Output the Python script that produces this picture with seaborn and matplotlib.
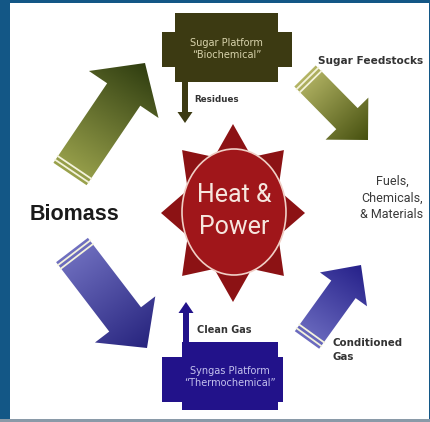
import numpy as np
import seaborn as sns
import matplotlib.pyplot as plt
from matplotlib.patches import Polygon, Rectangle, Ellipse

# labels of the diagram
source_label = 'Biomass'
hub_label = 'Heat &\nPower'
product_label = 'Fuels,\nChemicals,\n& Materials'
platform_names = ['Sugar Platform\n\u201cBiochemical\u201d', 'Syngas Platform\n\u201cThermochemical\u201d']
flow_labels = ['Residues', 'Sugar Feedstocks', 'Clean Gas', 'Conditioned\nGas']

sns.set_theme(style='white')
plt.rcParams['font.family'] = ['DejaVu Sans']
narrow = ['Roboto', 'DejaVu Sans']

fig = plt.figure(figsize=(4.31, 4.22), dpi=100)
ax = fig.add_axes([0, 0, 1, 1])
ax.set_axis_off()

olive = '#3c3a12'
indigo = '#22128a'
border = '#135786'


def arrow_poly(tail, tip, w, hw, hl):
    t = np.array(tail, float)
    p = np.array(tip, float)
    d = p - t
    L = np.hypot(*d)
    u = d / L
    n = np.array([-u[1], u[0]])
    b = p - u * hl
    pts = [t + n * w / 2, b + n * w / 2, b + n * hw / 2, p,
           b - n * hw / 2, b - n * w / 2, t - n * w / 2]
    return np.array(pts), u, n, L


def fat_arrow(tail, tip, w, hw, hl, c_tail, c_tip, stripes=True):
    pts, u, n, L = arrow_poly(tail, tip, w, hw, hl)
    patch = Polygon(pts, closed=True, facecolor='none', edgecolor='none')
    ax.add_patch(patch)
    x0, y0 = pts.min(axis=0) - 2
    x1, y1 = pts.max(axis=0) + 2
    X, Y = np.meshgrid(np.linspace(x0, x1, 120), np.linspace(y0, y1, 120))
    s = ((X - tail[0]) * u[0] + (Y - tail[1]) * u[1]) / L
    cmap = sns.blend_palette([c_tail, c_tip], as_cmap=True)
    im = ax.imshow(np.clip(s, 0, 1), cmap=cmap, vmin=0, vmax=1,
                   extent=(x0, x1, y1, y0), origin='upper',
                   interpolation='bilinear', zorder=2)
    im.set_clip_path(patch)
    if stripes:
        t = np.array(tail, float)
        for dd in (3.5, 8):
            c = t + u * dd
            a, b = c + n * (w / 2 + 1), c - n * (w / 2 + 1)
            ax.plot([a[0], b[0]], [a[1], b[1]], color='#f4f3dc', lw=1.3,
                    solid_capstyle='butt', zorder=3)


# big arrows
fat_arrow((70, 174), (145, 63), 40, 84, 38, '#9aa24c', '#2f3d10')
fat_arrow((72, 250), (147, 348), 40, 76, 36, '#7070c0', '#27247e')
fat_arrow((305, 76), (368, 140), 30, 60, 30, '#b4b565', '#46500f')
fat_arrow((307, 340), (361, 265), 30, 58, 30, '#6c6cc0', '#26218a')

# small straight arrows
def small_arrow(x, y0, y1, color):
    pts, _, _, _ = arrow_poly((x, y0), (x, y1), 6, 15, 11)
    ax.add_patch(Polygon(pts, closed=True, facecolor=color, edgecolor='none', zorder=3))

small_arrow(185, 80, 123, olive)
small_arrow(186, 344, 302, indigo)

# platform boxes
for (mx0, mx1, my0, my1, ex0, ex1, ey0, ey1), col, txtc, name in [
        ((175, 278, 13, 82, 162, 292, 32, 67), olive, '#d8d3ac', platform_names[0]),
        ((182, 278, 342, 410, 162, 283, 357, 402), indigo, '#c4c2ee', platform_names[1])]:
    ax.add_patch(Rectangle((mx0, my0), mx1 - mx0, my1 - my0, facecolor=col, edgecolor='none', zorder=4))
    ax.add_patch(Rectangle((ex0, ey0), ex1 - ex0, ey1 - ey0, facecolor=col, edgecolor='none', zorder=4))
    ax.text((mx0 + mx1) / 2, (my0 + my1) / 2 + 1, name, ha='center', va='center',
            fontsize=7, color=txtc, linespacing=1.25, zorder=5)

# star with heat & power
cx, cy, rx, ry = 233, 213, 72, 89
ang = np.radians(90 + np.arange(16) * 22.5)
rad = np.where(np.arange(16) % 2 == 0, 1.0, 0.68)
star = np.column_stack([cx + rad * rx * np.cos(ang), cy - rad * ry * np.sin(ang)])
ax.add_patch(Polygon(star, closed=True, facecolor='#8c1214', edgecolor='none', zorder=4))
ax.add_patch(Ellipse((234, 212), 104, 126, facecolor='#a0161a', edgecolor='#f0cfc6', lw=1.2, zorder=5))
ax.text(234, 211, hub_label, ha='center', va='center', fontsize=18, family=narrow,
        color='#f6e6de', linespacing=1.4, zorder=6)

# text labels
ax.text(75, 215, source_label, ha='center', va='center', fontsize=15.5,
        family=['Liberation Sans', 'DejaVu Sans'], fontweight='bold', color='#1a1a1a')
ax.text(392, 198, product_label, ha='center', va='center', fontsize=9, family=narrow,
        color='#3a3a3a', linespacing=1.35)
ax.text(194, 100, flow_labels[0], ha='left', va='center', fontsize=6.3, fontweight='bold', color='#333333')
ax.text(318, 61, flow_labels[1], ha='left', va='center', fontsize=7.6, fontweight='bold', color='#333333')
ax.text(197, 330, flow_labels[2], ha='left', va='center', fontsize=7, fontweight='bold', color='#333333')
ax.text(333, 350, flow_labels[3], ha='left', va='center', fontsize=7.4, fontweight='bold',
        color='#333333', linespacing=1.5)

# frame
ax.add_patch(Rectangle((0, 0), 10, 422, facecolor=border, edgecolor='none', zorder=7))
ax.add_patch(Rectangle((0, 0), 431, 3, facecolor=border, edgecolor='none', zorder=7))
ax.add_patch(Rectangle((429, 0), 2, 422, facecolor=border, edgecolor='none', zorder=7))
ax.add_patch(Rectangle((0, 419), 431, 3, facecolor='#8a9aa8', edgecolor='none', zorder=7))

ax.set_xlim(0, 431)
ax.set_ylim(422, 0)
fig.savefig('out.png', dpi=100)
